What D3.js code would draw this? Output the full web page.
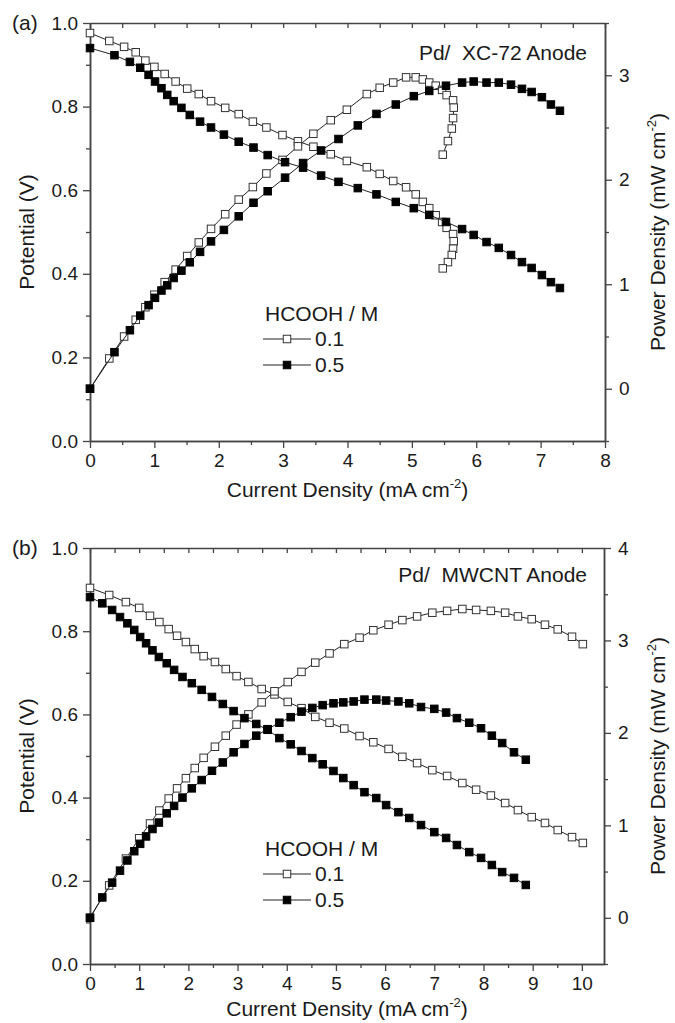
<!DOCTYPE html>
<html>
<head>
<meta charset="utf-8">
<script src="https://cdnjs.cloudflare.com/ajax/libs/d3/7.8.5/d3.min.js"></script>
<style>
  body { margin: 0; background: #fff; }
  svg text { font-family: 'Liberation Sans', Arial, sans-serif; fill: #1a1a1a; }
</style>
</head>
<body>
<svg id="chart" width="675" height="1023"></svg>
<script>
// ---- (a) Pd/XC-72 anode ----
const xcCurrent01   = [0, 0.30, 0.53, 0.71, 0.86, 1.00, 1.16, 1.33, 1.51, 1.69, 1.88, 2.10, 2.31, 2.53, 2.74, 2.99, 3.23, 3.47, 3.74, 3.99, 4.30, 4.50, 4.71, 4.91, 5.06, 5.17, 5.27, 5.37, 5.47, 5.54, 5.64, 5.65, 5.64, 5.62, 5.56, 5.48];
const xcPotential01 = [0.976, 0.957, 0.943, 0.930, 0.910, 0.895, 0.878, 0.860, 0.843, 0.830, 0.813, 0.797, 0.782, 0.764, 0.750, 0.732, 0.717, 0.704, 0.686, 0.670, 0.655, 0.639, 0.622, 0.607, 0.590, 0.572, 0.557, 0.540, 0.524, 0.510, 0.495, 0.478, 0.460, 0.445, 0.428, 0.413];
const xcPower01     = [0, 0.29, 0.50, 0.66, 0.78, 0.90, 1.02, 1.14, 1.27, 1.40, 1.53, 1.67, 1.81, 1.93, 2.06, 2.19, 2.32, 2.44, 2.57, 2.67, 2.82, 2.88, 2.93, 2.98, 2.98, 2.96, 2.93, 2.90, 2.86, 2.81, 2.76, 2.69, 2.59, 2.49, 2.37, 2.24];

const xcCurrent05   = [0, 0.38, 0.62, 0.78, 0.91, 1.01, 1.11, 1.20, 1.30, 1.42, 1.55, 1.71, 1.88, 2.08, 2.31, 2.54, 2.76, 3.03, 3.31, 3.59, 3.86, 4.16, 4.45, 4.75, 5.03, 5.27, 5.53, 5.78, 5.96, 6.16, 6.35, 6.54, 6.71, 6.86, 7.02, 7.16, 7.30];
const xcPotential05 = [0.940, 0.923, 0.907, 0.893, 0.876, 0.860, 0.844, 0.828, 0.813, 0.797, 0.780, 0.764, 0.750, 0.733, 0.716, 0.702, 0.684, 0.667, 0.654, 0.635, 0.620, 0.605, 0.590, 0.572, 0.557, 0.541, 0.524, 0.507, 0.493, 0.476, 0.462, 0.445, 0.428, 0.414, 0.397, 0.380, 0.366];
const xcPower05     = [0, 0.35, 0.56, 0.70, 0.80, 0.87, 0.94, 0.99, 1.06, 1.13, 1.21, 1.31, 1.41, 1.52, 1.65, 1.78, 1.89, 2.02, 2.16, 2.28, 2.39, 2.52, 2.63, 2.72, 2.80, 2.85, 2.90, 2.93, 2.94, 2.93, 2.93, 2.91, 2.87, 2.84, 2.79, 2.72, 2.66];

// ---- (b) Pd/MWCNT anode ----
const cntCurrent01   = [0, 0.39, 0.73, 1.00, 1.22, 1.41, 1.60, 1.77, 1.95, 2.13, 2.31, 2.54, 2.76, 2.98, 3.22, 3.49, 3.75, 4.02, 4.30, 4.58, 4.87, 5.17, 5.48, 5.76, 6.07, 6.35, 6.65, 6.96, 7.26, 7.57, 7.85, 8.15, 8.44, 8.70, 8.98, 9.25, 9.51, 9.80, 10.02];
const cntPotential01 = [0.904, 0.887, 0.870, 0.856, 0.837, 0.822, 0.805, 0.789, 0.774, 0.757, 0.740, 0.726, 0.709, 0.692, 0.678, 0.661, 0.648, 0.630, 0.615, 0.594, 0.580, 0.566, 0.548, 0.533, 0.517, 0.498, 0.483, 0.466, 0.452, 0.435, 0.419, 0.405, 0.387, 0.370, 0.353, 0.339, 0.322, 0.305, 0.291];
const cntPower01     = [0, 0.35, 0.64, 0.86, 1.02, 1.16, 1.29, 1.40, 1.51, 1.62, 1.73, 1.85, 1.97, 2.09, 2.20, 2.33, 2.45, 2.55, 2.66, 2.76, 2.86, 2.96, 3.03, 3.11, 3.17, 3.22, 3.26, 3.30, 3.32, 3.34, 3.33, 3.32, 3.30, 3.26, 3.23, 3.17, 3.12, 3.04, 2.96];

const cntCurrent05   = [0, 0.25, 0.45, 0.61, 0.76, 0.90, 1.02, 1.14, 1.27, 1.40, 1.56, 1.71, 1.88, 2.07, 2.27, 2.48, 2.70, 2.92, 3.14, 3.38, 3.61, 3.85, 4.08, 4.30, 4.52, 4.73, 4.95, 5.15, 5.36, 5.58, 5.82, 6.02, 6.27, 6.49, 6.73, 7.00, 7.24, 7.46, 7.71, 7.95, 8.17, 8.38, 8.62, 8.86];
const cntPotential05 = [0.882, 0.867, 0.851, 0.834, 0.819, 0.803, 0.786, 0.771, 0.754, 0.738, 0.723, 0.707, 0.690, 0.675, 0.659, 0.642, 0.625, 0.608, 0.591, 0.577, 0.563, 0.543, 0.528, 0.512, 0.495, 0.480, 0.464, 0.447, 0.430, 0.413, 0.399, 0.382, 0.365, 0.351, 0.334, 0.317, 0.303, 0.286, 0.269, 0.255, 0.238, 0.221, 0.207, 0.190];
const cntPower05     = [0, 0.22, 0.38, 0.51, 0.62, 0.72, 0.80, 0.88, 0.96, 1.03, 1.13, 1.21, 1.30, 1.40, 1.49, 1.59, 1.68, 1.79, 1.88, 1.97, 2.04, 2.11, 2.17, 2.23, 2.27, 2.30, 2.32, 2.33, 2.34, 2.36, 2.36, 2.35, 2.34, 2.32, 2.28, 2.26, 2.22, 2.16, 2.11, 2.05, 1.97, 1.89, 1.79, 1.71];

const concentrations = ['0.1', '0.5'];
const potentialTicks = [0, 0.2, 0.4, 0.6, 0.8, 1.0];

const panels = [
    {
        label: '(a)', title: 'Pd/  XC-72 Anode',
        left: 90, right: 605, top: 23, bottom: 441,
        xMax: 8, pMin: -0.5, pMax: 3.5,
        labelY: 30, titleY: 60, legendY: 321, xTitleY: 497,
        series: [
            { current: xcCurrent01, potential: xcPotential01, power: xcPower01, filled: false },
            { current: xcCurrent05, potential: xcPotential05, power: xcPower05, filled: true }
        ]
    },
    {
        label: '(b)', title: 'Pd/  MWCNT Anode',
        left: 90, right: 604, top: 548, bottom: 964,
        xMax: 10.45, pMin: -0.5, pMax: 4,
        labelY: 555, titleY: 582, legendY: 856, xTitleY: 1016,
        series: [
            { current: cntCurrent01, potential: cntPotential01, power: cntPower01, filled: false },
            { current: cntCurrent05, potential: cntPotential05, power: cntPower05, filled: true }
        ]
    }
];

const svg = d3.select('#chart');
const axisColor = '#444';
const markerSize = 7.5;

function styleAxis(g, fontSize) {
    g.select('.domain').attr('stroke', axisColor).attr('stroke-width', 1.5);
    g.selectAll('.tick line').attr('stroke', axisColor).attr('stroke-width', 1.3);
    g.selectAll('.tick text').style('font-size', fontSize + 'px').style('fill', '#1a1a1a');
    g.attr('font-family', null);
}

function drawMarkers(g, pts, x, y, filled) {
    g.selectAll(null)
        .data(pts)
        .enter()
        .append('rect')
        .attr('x', d => x(d[0]) - markerSize / 2)
        .attr('y', d => y(d[1]) - markerSize / 2)
        .attr('width', markerSize)
        .attr('height', markerSize)
        .attr('fill', filled ? '#000' : '#fff')
        .attr('stroke', filled ? '#000' : '#333')
        .attr('stroke-width', 1);
}

function drawPanel(p) {
    const x = d3.scaleLinear().domain([0, p.xMax]).range([p.left, p.right]);
    const yV = d3.scaleLinear().domain([0, 1]).range([p.bottom, p.top]);
    const yP = d3.scaleLinear().domain([p.pMin, p.pMax]).range([p.bottom, p.top]);

    const xMajor = d3.range(0, Math.floor(p.xMax) + 1);
    const xAll = d3.range(0, p.xMax + 0.001, 0.5);
    const xMinor = xAll.filter(v => v % 1 !== 0);
    const vMinor = [0.1, 0.3, 0.5, 0.7, 0.9];
    const pMajor = d3.range(Math.ceil(p.pMin), Math.floor(p.pMax) + 1);
    const pMinor = d3.range(p.pMin, p.pMax + 0.001, 0.5).filter(v => v % 1 !== 0);

    // bottom axis
    const gx = svg.append('g').attr('transform', `translate(0,${p.bottom})`)
        .call(d3.axisBottom(x).tickValues(xMajor).tickFormat(d3.format('d'))
            .tickSizeInner(7).tickSizeOuter(0).tickPadding(6));
    styleAxis(gx, 19);
    const gxm = svg.append('g').attr('transform', `translate(0,${p.bottom})`)
        .call(d3.axisBottom(x).tickValues(xMinor).tickFormat('').tickSizeInner(4).tickSizeOuter(0));
    styleAxis(gxm, 19);

    // top axis, ticks pointing inward
    const gt = svg.append('g').attr('transform', `translate(0,${p.top})`)
        .call(d3.axisTop(x).tickValues(xAll).tickFormat('').tickSizeInner(-5).tickSizeOuter(0));
    styleAxis(gt, 19);

    // left axis
    const gy = svg.append('g').attr('transform', `translate(${p.left},0)`)
        .call(d3.axisLeft(yV).tickValues(potentialTicks).tickFormat(d3.format('.1f'))
            .tickSizeInner(7).tickSizeOuter(0).tickPadding(5));
    styleAxis(gy, 19);
    const gym = svg.append('g').attr('transform', `translate(${p.left},0)`)
        .call(d3.axisLeft(yV).tickValues(vMinor).tickFormat('').tickSizeInner(4).tickSizeOuter(0));
    styleAxis(gym, 19);

    // right axis
    const gr = svg.append('g').attr('transform', `translate(${p.right},0)`)
        .call(d3.axisRight(yP).tickValues(pMajor).tickFormat(d3.format('d'))
            .tickSizeInner(7).tickSizeOuter(0).tickPadding(7));
    styleAxis(gr, 19);
    const grm = svg.append('g').attr('transform', `translate(${p.right},0)`)
        .call(d3.axisRight(yP).tickValues(pMinor).tickFormat('').tickSizeInner(4).tickSizeOuter(0));
    styleAxis(grm, 19);

    // curves
    const plot = svg.append('g');
    p.series.forEach(s => {
        const vPts = s.current.map((c, i) => [c, s.potential[i]]);
        const pPts = s.current.map((c, i) => [c, s.power[i]]);
        [[vPts, yV], [pPts, yP]].forEach(([pts, y]) => {
            plot.append('path')
                .datum(pts)
                .attr('fill', 'none')
                .attr('stroke', '#222')
                .attr('stroke-width', 1)
                .attr('d', d3.line().x(d => x(d[0])).y(d => y(d[1])));
        });
        const mg = plot.append('g');
        drawMarkers(mg, vPts, x, yV, s.filled);
        drawMarkers(mg, pPts, x, yP, s.filled);
    });

    // panel label and annotation
    svg.append('text').attr('x', 12).attr('y', p.labelY)
        .style('font-size', '21px').text(p.label);
    svg.append('text').attr('x', 587).attr('y', p.titleY)
        .attr('text-anchor', 'end').attr('xml:space', 'preserve')
        .style('font-size', '21px').style('white-space', 'pre').text(p.title);

    // legend
    const lg = svg.append('g');
    lg.append('text').attr('x', 265).attr('y', p.legendY)
        .style('font-size', '21px').text('HCOOH / M');
    concentrations.forEach((c, i) => {
        const ly = p.legendY + 18 + i * 26;
        lg.append('line').attr('x1', 263).attr('x2', 311).attr('y1', ly).attr('y2', ly)
            .attr('stroke', '#222').attr('stroke-width', 1);
        drawMarkers(lg.append('g'), [[0, 0]], () => 287, () => ly, p.series[i].filled);
        lg.append('text').attr('x', 315).attr('y', ly + 7)
            .style('font-size', '21px').text(c);
    });

    // axis titles
    const xt = svg.append('text').attr('x', (p.left + p.right) / 2).attr('y', p.xTitleY)
        .attr('text-anchor', 'middle').style('font-size', '21px');
    xt.append('tspan').text('Current Density (mA cm');
    xt.append('tspan').attr('dy', -9).style('font-size', '13px').text('-2');
    xt.append('tspan').attr('dy', 9).text(')');

    const midY = (p.top + p.bottom) / 2;
    svg.append('text')
        .attr('transform', `translate(34,${midY}) rotate(-90)`)
        .attr('text-anchor', 'middle').style('font-size', '21px')
        .text('Potential (V)');

    const rt = svg.append('text')
        .attr('transform', `translate(665,${midY}) rotate(-90)`)
        .attr('text-anchor', 'middle').style('font-size', '21px');
    rt.append('tspan').text('Power Density (mW cm');
    rt.append('tspan').attr('dy', -9).style('font-size', '13px').text('-2');
    rt.append('tspan').attr('dy', 9).text(')');
}

panels.forEach(drawPanel);
</script>
</body>
</html>
